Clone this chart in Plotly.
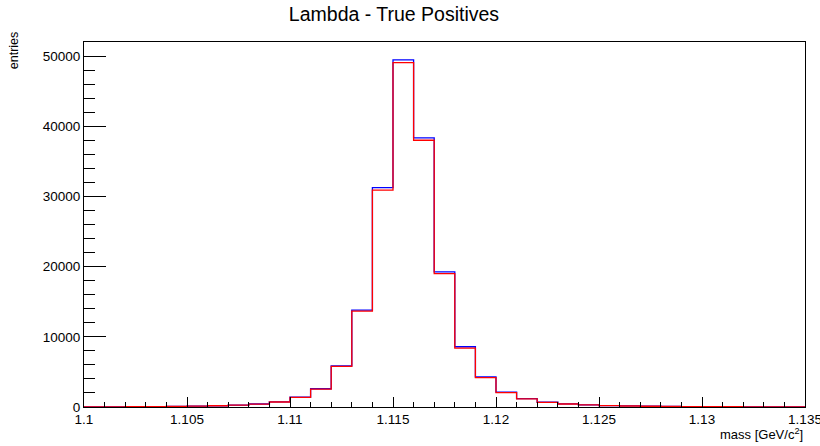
import plotly.graph_objects as go

# bin edges (GeV/c^2), 35 bins of width 0.001
bin_lo = 1.100
bin_w = 0.001
n_bins = 35
edges = [round(bin_lo + i * bin_w, 3) for i in range(n_bins + 1)]

blue_counts = [20, 30, 40, 60, 90, 120, 180, 270, 430, 720,
               1400, 2600, 5850, 13800, 31250, 49450, 38350, 19250, 8580, 4300,
               2120, 1180, 680, 440, 300, 210, 150, 110, 80, 60,
               45, 35, 25, 20, 15]
red_counts = [20, 30, 40, 60, 88, 118, 176, 265, 420, 710,
              1380, 2560, 5780, 13650, 30900, 49050, 38000, 19000, 8400, 4180,
              2060, 1150, 660, 430, 290, 205, 145, 105, 78, 58,
              44, 34, 24, 19, 14]

title_text = "Lambda - True Positives"
x_title = "mass [GeV/c<sup>2</sup>]"
y_title = "entries"
x_ticks = [1.1, 1.105, 1.11, 1.115, 1.12, 1.125, 1.13, 1.135]
x_tick_labels = ["1.1", "1.105", "1.11", "1.115", "1.12", "1.125", "1.13", "1.135"]
y_ticks = [0, 10000, 20000, 30000, 40000, 50000]
y_tick_labels = ["0", "10000", "20000", "30000", "40000", "50000"]

FONT = "Liberation Sans, Arial, Helvetica, sans-serif"


def step(counts):
    return edges, list(counts) + [counts[-1]]


fig = go.Figure()
for counts, col in [(blue_counts, "rgb(0,0,255)"), (red_counts, "rgb(255,0,0)")]:
    xs, ys = step(counts)
    fig.add_trace(go.Scatter(x=xs, y=ys, mode="lines", line_shape="hv",
                             line=dict(color=col, width=1.3), hoverinfo="skip",
                             showlegend=False))

W, H = 820, 446
L, R, T, B = 84, 15, 42, 39
pw = W - L - R

fig.update_layout(
    width=W, height=H,
    margin=dict(l=L, r=R, t=T, b=B, autoexpand=False),
    paper_bgcolor="white", plot_bgcolor="white",
    font=dict(family=FONT, color="black", size=13),
    title=dict(text=title_text, x=394 / W, xref="container", xanchor="center",
               y=1 - 14 / H, yref="container", yanchor="middle",
               font=dict(size=19.5, family=FONT, color="black")),
    xaxis=dict(range=[1.1, 1.135], tickvals=x_ticks, ticktext=x_tick_labels,
               ticks="inside", ticklen=10, tickwidth=1, tickcolor="black",
               showline=True, linecolor="black", linewidth=1, mirror=True,
               showgrid=False, zeroline=False, automargin=False,
               ticklabeloverflow="allow",
               tickfont=dict(size=13.5),
               minor=dict(tickvals=[round(1.1 + i * 0.001, 3) for i in range(36)],
                          ticks="inside", ticklen=5, tickcolor="black", showgrid=False)),
    yaxis=dict(range=[0, 52000], tickvals=y_ticks, ticktext=y_tick_labels,
               ticks="inside", ticklen=22, tickwidth=1, tickcolor="black",
               showline=True, linecolor="black", linewidth=1, mirror=True,
               showgrid=False, zeroline=False, automargin=False,
               ticklabeloverflow="allow",
               tickfont=dict(size=13.5),
               minor=dict(dtick=2000, ticks="inside", ticklen=11,
                          tickcolor="black", showgrid=False)),
    annotations=[
        dict(text=y_title, textangle=-90, xref="paper", yref="paper",
             x=(14 - L) / pw, y=1.035, xanchor="center", yanchor="top",
             showarrow=False, font=dict(size=12.5)),
        dict(text=x_title, xref="paper", yref="paper",
             x=(805 - L) / pw, y=-(434 - (H - B)) / (H - T - B),
             xanchor="right", yanchor="middle", showarrow=False,
             font=dict(size=13)),
    ],
)

fig.write_html("out.html")
